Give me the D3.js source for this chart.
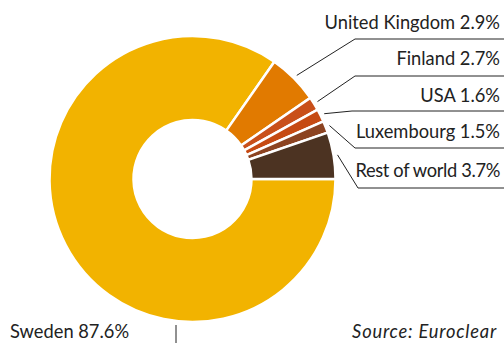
<!DOCTYPE html>
<html><head><meta charset="utf-8">
<script src="https://cdn.jsdelivr.net/npm/d3@7"></script>
<style>body{margin:0;background:#fff}svg{display:block}</style>
</head><body>
<svg id="c" width="504" height="343"></svg>
<script>
// Categories and printed percentages (as labelled in the reference)
const categories = ["Sweden", "United Kingdom", "Finland", "USA", "Luxembourg", "Rest of world"];
const labelPercents = ["87.6", "2.9", "2.7", "1.6", "1.5", "3.7"];
// Slice sizes as actually drawn in the reference (share of the full ring, %)
const sliceShares = [84.7, 5.7, 1.55, 1.45, 1.35, 5.25];
const colors = ["#F2B300", "#E17A00", "#C9501A", "#C64A12", "#8C4321", "#4C3322"];
const sourceText = "Source: Euroclear";

const svg = d3.select("#c");
const cx = 192.5, cy = 179, rOut = 143, rIn = 59;
const g = svg.append("g").attr("transform", `translate(${cx},${cy})`);

const pie = d3.pie().sort(null).value(d => d)
  .startAngle(Math.PI / 2).endAngle(Math.PI / 2 + 2 * Math.PI);
const arcs = pie(sliceShares);
const arc = d3.arc().innerRadius(rIn).outerRadius(rOut);

g.selectAll("path.slice").data(arcs).join("path")
  .attr("class", "slice")
  .attr("d", arc)
  .attr("fill", (d, i) => colors[i])
  .attr("stroke", "#fff")
  .attr("stroke-width", 2.5)
  .attr("stroke-linejoin", "miter");

// Labels for the small slices on the right
const font = "'Lato', 'Liberation Sans', sans-serif";
const fs = 18.3;
const rows = [null,
  {y: 39, ex: 355, b: 28.5, ls: 0},
  {y: 76, ex: 355, b: 65, ls: 0},
  {y: 111, ex: 352, b: 101.5, ls: 0},
  {y: 148, ex: 355, b: 138, ls: 0},
  {y: 188, ex: 358, b: 177, ls: -0.35}];
const lineEnd = 504, textRight = 500;
const lg = svg.append("g");
arcs.forEach((a, i) => {
  if (i === 0) return;
  const r = rows[i];
  const mid = (a.startAngle + a.endAngle) / 2;
  const px = cx + Math.sin(mid) * 147, py = cy - Math.cos(mid) * 147;
  lg.append("polyline")
    .attr("points", `${px},${py} ${r.ex},${r.y} ${lineEnd},${r.y}`)
    .attr("fill", "none").attr("stroke", "#222").attr("stroke-width", 1);
  lg.append("text")
    .attr("x", textRight).attr("y", r.b)
    .attr("text-anchor", "end")
    .attr("font-family", font).attr("font-size", fs)
    .attr("letter-spacing", r.ls)
    .attr("fill", "#222")
    .text(`${categories[i]} ${labelPercents[i]}%`);
});

// Bottom labels
svg.append("text").attr("x", 10).attr("y", 338)
  .attr("font-family", font).attr("font-size", fs).attr("fill", "#222")
  .text(`${categories[0]} ${labelPercents[0]}%`);
svg.append("line").attr("x1", 176).attr("x2", 176).attr("y1", 325).attr("y2", 343)
  .attr("stroke", "#222").attr("stroke-width", 1);
svg.append("text").attr("x", 497).attr("y", 338)
  .attr("text-anchor", "end")
  .attr("font-family", font).attr("font-size", fs).attr("font-style", "italic")
  .attr("letter-spacing", 0.8).attr("fill", "#222")
  .text(sourceText);
</script>
</body></html>
